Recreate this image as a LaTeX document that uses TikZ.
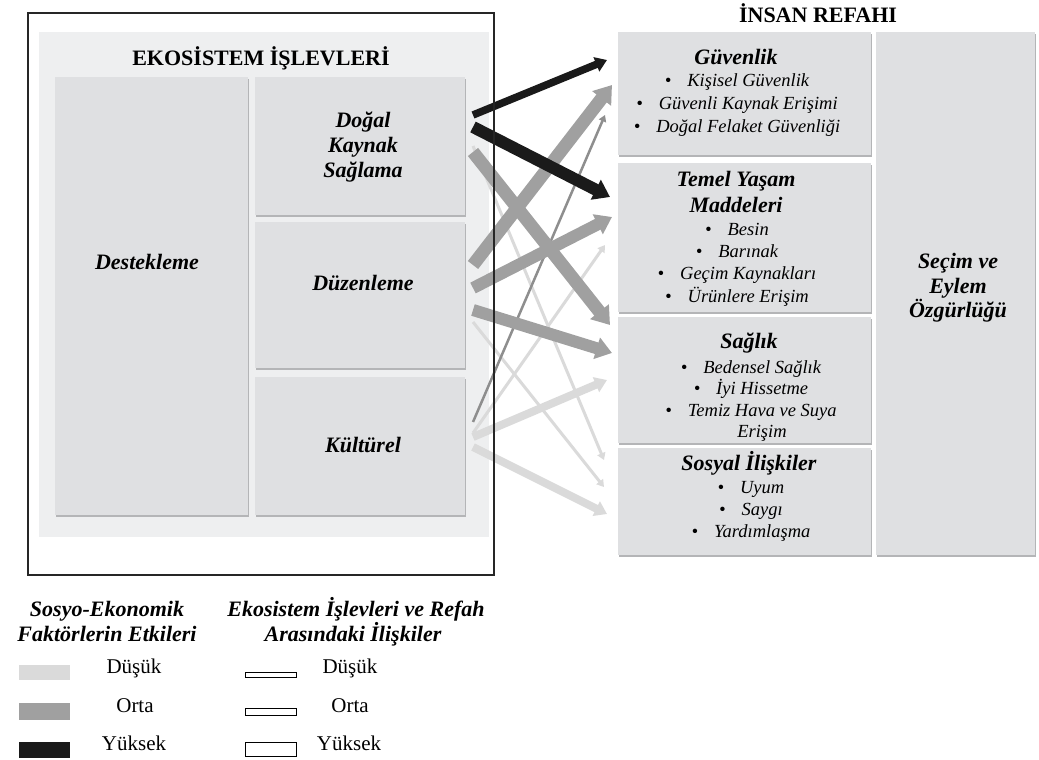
\documentclass[tikz,border=0pt]{standalone}
\usepackage{fontspec}
\setmainfont{Liberation Serif}
\usetikzlibrary{arrows.meta,shadows}

\definecolor{panel}{HTML}{EEEFF0}
\definecolor{boxgray}{HTML}{DFE0E2}
\definecolor{shade}{HTML}{B4B5B7}
\definecolor{hicol}{HTML}{1A1A1A}
\definecolor{midcol}{HTML}{A0A0A0}
\definecolor{midthin}{HTML}{8E8E8E}
\definecolor{locol}{HTML}{DADADA}

\tikzset{
  sbox/.style={fill=boxgray, draw=none, inner sep=0pt,
    general shadow={fill=shade, shadow xshift=0.8pt, shadow yshift=-2pt}},
  heading/.style={font=\fontsize{22}{26}\selectfont\bfseries, anchor=base, inner sep=0pt},
  fnname/.style={font=\fontsize{22}{26}\selectfont\bfseries\itshape, anchor=base, inner sep=0pt},
  itm/.style={font=\fontsize{18.5}{22}\selectfont\itshape, anchor=base, inner sep=0pt},
  legtext/.style={font=\fontsize{21}{25}\selectfont, anchor=base, inner sep=0pt},
  conn/.style={line cap=butt, -{Triangle[length=4pt 1.0, width=4pt 1.45]}},
  hiconn/.style={conn, draw=hicol},
  midconn/.style={conn, draw=midcol},
  loconn/.style={conn, draw=locol},
}
\newcommand{\bl}{\textbullet\hspace{16pt}}

\begin{document}
\begin{tikzpicture}[x=1pt, y=-1pt]
\useasboundingbox (0,0) rectangle (1039,760);

% ---------- ecosystem functions ----------
\fill[panel] (39,32) rectangle (489,537);
\node[heading] (ekotitle) at (261,66) {EKOSİSTEM İŞLEVLERİ};

\node[sbox, minimum width=193pt, minimum height=438pt] (destek) at (151.5,296) {};
\node[sbox, minimum width=210pt, minimum height=138pt] (dogal)  at (360,146) {};
\node[sbox, minimum width=210pt, minimum height=146pt] (duzen)  at (360,295) {};
\node[sbox, minimum width=210pt, minimum height=138pt] (kultur) at (360,446) {};

\node[fnname] (destekT) at (147,269) {Destekleme};
\node[fnname] (dogalT1) at (363,127) {Doğal};
\node[fnname] (dogalT2) at (363,152) {Kaynak};
\node[fnname] (dogalT3) at (363,177) {Sağlama};
\node[fnname] (duzenT)  at (363,290) {Düzenleme};
\node[fnname] (kulturT) at (363,452) {Kültürel};

% ---------- human well-being ----------
\node[heading] (refahtitle) at (818,23) {İNSAN REFAHI};

\node[sbox, minimum width=253pt, minimum height=123pt] (guven)  at (744.5,93.5) {};
\node[sbox, minimum width=253pt, minimum height=149pt] (temel)  at (744.5,237.5) {};
\node[sbox, minimum width=253pt, minimum height=126pt] (saglik) at (744.5,380) {};
\node[sbox, minimum width=253pt, minimum height=107pt] (sosyal) at (744.5,501.5) {};
\node[sbox, minimum width=159pt, minimum height=523pt] (secim)  at (955.5,293.5) {};

\node[fnname] (guvenT) at (736,65) {Güvenlik};
\node[itm] (guven1) at (737,87)  {\bl Kişisel Güvenlik};
\node[itm] (guven2) at (737,110) {\bl Güvenli Kaynak Erişimi};
\node[itm] (guven3) at (737,132) {\bl Doğal Felaket Güvenliği};

\node[fnname] (temelT1) at (736,186) {Temel Yaşam};
\node[fnname] (temelT2) at (736,212) {Maddeleri};
\node[itm] (temel1) at (737,235) {\bl Besin};
\node[itm] (temel2) at (737,257) {\bl Barınak};
\node[itm] (temel3) at (737,279) {\bl Geçim Kaynakları};
\node[itm] (temel4) at (737,302) {\bl Ürünlere Erişim};

\node[fnname] (saglikT) at (749,348) {Sağlık};
\node[itm] (saglik1) at (751,373) {\bl Bedensel Sağlık};
\node[itm] (saglik2) at (751,394) {\bl İyi Hissetme};
\node[itm] (saglik3) at (751,416) {\bl Temiz Hava ve Suya};
\node[itm] (saglik4) at (762,437) {Erişim};

\node[fnname] (sosyalT) at (749,470) {Sosyal İlişkiler};
\node[itm] (sosyal1) at (751,493) {\bl Uyum};
\node[itm] (sosyal2) at (751,515) {\bl Saygı};
\node[itm] (sosyal3) at (751,537) {\bl Yardımlaşma};

\node[fnname] (secimT1) at (958,268) {Seçim ve};
\node[fnname] (secimT2) at (958,293) {Eylem};
\node[fnname] (secimT3) at (958,317) {Özgürlüğü};

% ---------- link end points ----------
\coordinate (dgA) at (473,115);
\coordinate (dgB) at (473,127);
\coordinate (dgC) at (473,146);
\coordinate (dgD) at (473,152);
\coordinate (dzA) at (473,265);
\coordinate (dzB) at (473,288);
\coordinate (dzC) at (473,310);
\coordinate (dzD) at (473,322);
\coordinate (klA) at (473,422);
\coordinate (klB) at (473,433);
\coordinate (klC) at (473,437);
\coordinate (klD) at (473,447);

\coordinate (gvA) at (607,60);
\coordinate (gvB) at (612,85);
\coordinate (gvC) at (605,115);
\coordinate (tmA) at (610,197);
\coordinate (tmB) at (612,217);
\coordinate (tmC) at (605,245);
\coordinate (sgA) at (610,325);
\coordinate (sgB) at (612,353);
\coordinate (sgC) at (607,380);
\coordinate (ssA) at (604,460);
\coordinate (ssB) at (604,487);
\coordinate (ssC) at (607,514);

% low-level links
\draw[loconn, line width=3pt] (dgC) -- (ssA);
\draw[loconn, line width=3pt] (dzD) -- (ssB);
\draw[loconn, line width=3pt] (klB) -- (tmC);
\draw[loconn, line width=8pt] (klC) -- (sgC);
\draw[loconn, line width=8pt] (klD) -- (ssC);
% medium-level links
\draw[conn, draw=midthin, line width=2.5pt] (klA) -- (gvC);
\draw[midconn, line width=13pt] (dgD) -- (sgA);
\draw[midconn, line width=13pt] (dzA) -- (gvB);
\draw[midconn, line width=12pt] (dzB) -- (tmB);
\draw[midconn, line width=12pt] (dzC) -- (sgB);
% high-level links
\draw[hiconn, line width=7.5pt] (dgA) -- (gvA);
\draw[hiconn, line width=12pt]  (dgB) -- (tmA);

% outer frame
\draw[line width=1.2pt, black!85] (28,13) rectangle (494,575);

% ---------- legend ----------
\node[fnname] (legA1) at (107,616) {Sosyo-Ekonomik};
\node[fnname] (legA2) at (107,641) {Faktörlerin Etkileri};
\node[fnname] (legB1) at (356,616) {Ekosistem İşlevleri ve Refah};
\node[fnname] (legB2) at (353,641) {Arasındaki İlişkiler};

\fill[locol]  (19,665) rectangle (70,680);
\fill[midcol] (19,703) rectangle (70,720);
\fill[hicol]  (19,742) rectangle (70,758);
\node[legtext] (lowA) at (134,673) {Düşük};
\node[legtext] (midA) at (135,712) {Orta};
\node[legtext] (hiA)  at (134,750) {Yüksek};

\draw[line width=1pt] (245,672.5) rectangle (296,677);
\draw[line width=1pt] (245,708) rectangle (296,715);
\draw[line width=1pt] (245,742) rectangle (296,756);
\node[legtext] (lowB) at (350,673) {Düşük};
\node[legtext] (midB) at (350,712) {Orta};
\node[legtext] (hiB)  at (349,750) {Yüksek};
\end{tikzpicture}
\end{document}
